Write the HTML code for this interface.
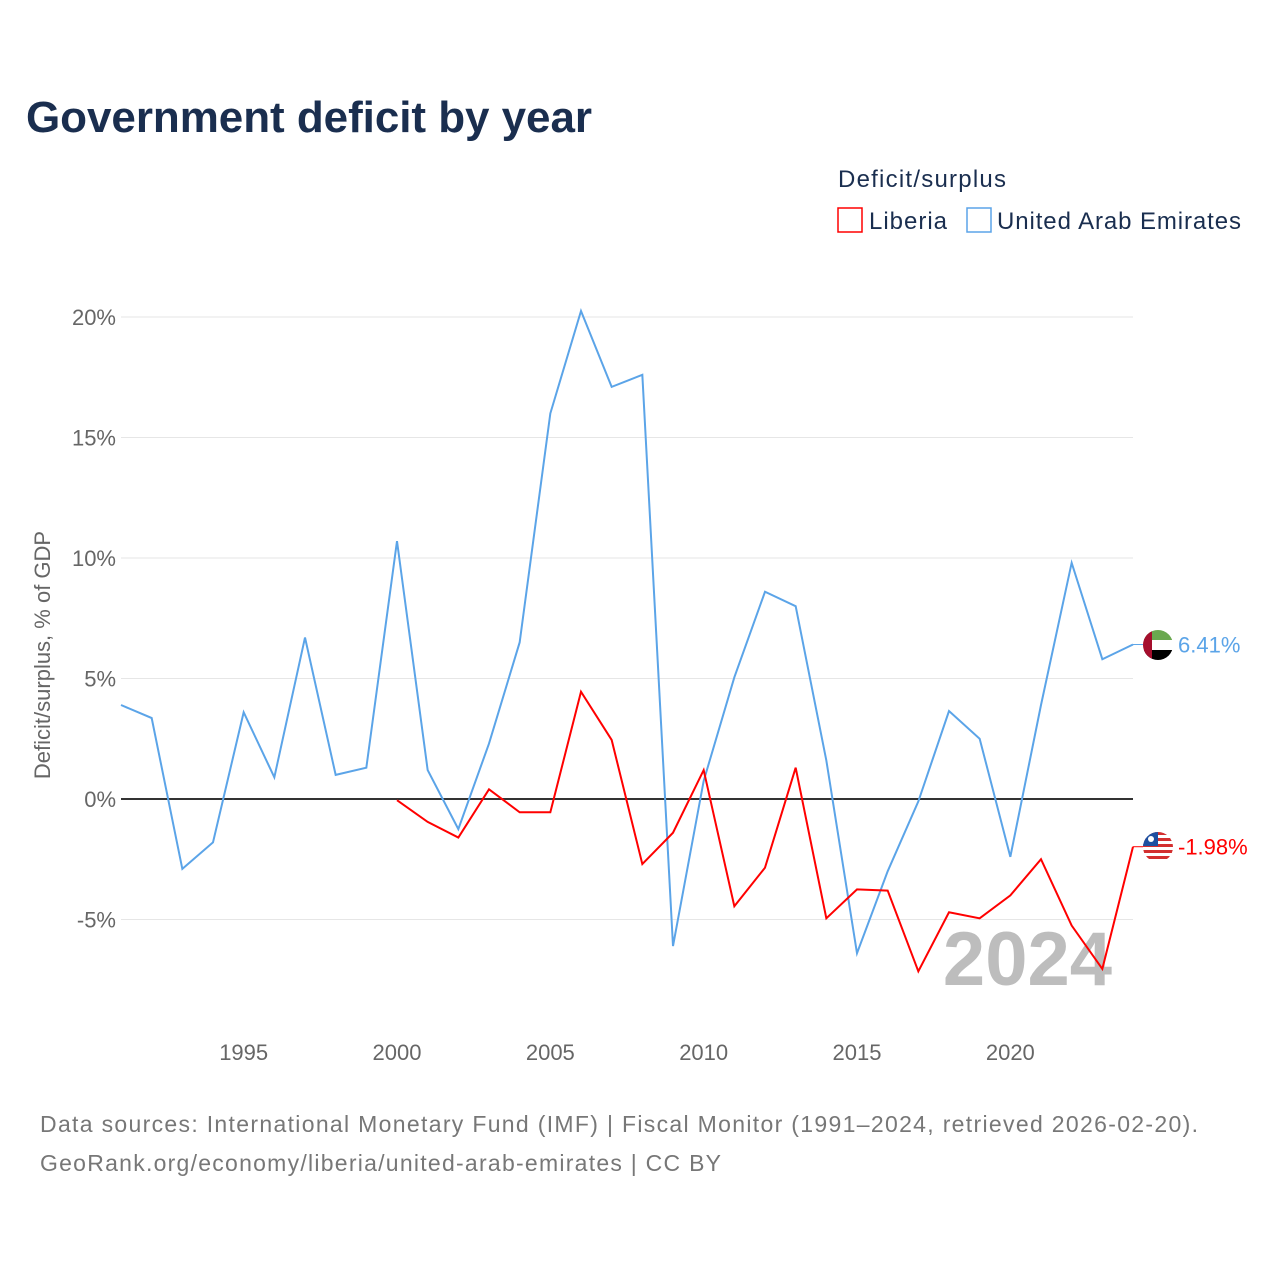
<!DOCTYPE html>
<html><head><meta charset="utf-8">
<style>
body{margin:0;background:#fff;width:1280px;height:1280px;overflow:hidden;font-family:"Liberation Sans",sans-serif}
svg text{font-family:"Liberation Sans",sans-serif}
</style></head>
<body>
<svg id="chart" width="1280" height="1280" xmlns="http://www.w3.org/2000/svg">
<defs>
<clipPath id="cu"><circle cx="1158" cy="645" r="15"/></clipPath>
<clipPath id="cl"><circle cx="1158" cy="847" r="15"/></clipPath>
</defs>
<text x="26" y="132" font-size="44" font-weight="bold" fill="#1a2e4f" textLength="566">Government deficit by year</text>
<g>
<text x="838" y="187" font-size="24" fill="#1a2e4f" textLength="168">Deficit/surplus</text>
<rect x="838" y="208" width="24" height="24" fill="none" stroke="#ff0000" stroke-width="1.5"/>
<text x="869" y="229" font-size="24" fill="#1a2e4f" textLength="78">Liberia</text>
<rect x="967" y="208" width="24" height="24" fill="none" stroke="#5ba4e8" stroke-width="1.5"/>
<text x="997" y="229" font-size="24" fill="#1a2e4f" textLength="244">United Arab Emirates</text>
</g>
<text transform="translate(50,655) rotate(-90)" text-anchor="middle" font-size="22" fill="#666">Deficit/surplus, % of GDP</text>
<g id="grid"></g><g id="xt"></g>
<text x="1112" y="985" text-anchor="end" font-size="76" font-weight="bold" fill="#bdbdbd">2024</text>
<g id="series"></g>
<g clip-path="url(#cu)">
<rect x="1143" y="630" width="30" height="10" fill="#6aa84f"/>
<rect x="1143" y="640" width="30" height="10" fill="#fff"/>
<rect x="1143" y="650" width="30" height="10" fill="#000"/>
<rect x="1143" y="630" width="9" height="30" fill="#a50e2d"/>
</g>
<g clip-path="url(#cl)">
<rect x="1143" y="832" width="30" height="30" fill="#fff"/>
<rect x="1143" y="832" width="30" height="3" fill="#d32f2f"/>
<rect x="1143" y="838" width="30" height="3" fill="#d32f2f"/>
<rect x="1143" y="844" width="30" height="3" fill="#d32f2f"/>
<rect x="1143" y="850" width="30" height="3" fill="#d32f2f"/>
<rect x="1143" y="856" width="30" height="3" fill="#d32f2f"/>
<rect x="1143" y="832" width="15" height="14" fill="#1e4fa0"/>
<circle cx="1151" cy="839" r="3" fill="#fff"/>
</g>
<text x="40" y="1132" font-size="23" fill="#777" textLength="1158">Data sources: International Monetary Fund (IMF) | Fiscal Monitor (1991–2024, retrieved 2026-02-20).</text>
<text x="40" y="1171" font-size="23" fill="#777" textLength="681">GeoRank.org/economy/liberia/united-arab-emirates | CC BY</text>
</svg>
<script>
const uaeYears=[1991,1992,1993,1994,1995,1996,1997,1998,1999,2000,2001,2002,2003,2004,2005,2006,2007,2008,2009,2010,2011,2012,2013,2014,2015,2016,2017,2018,2019,2020,2021,2022,2023,2024];
const uaeValues=[3.9,3.36,-2.9,-1.8,3.6,0.9,6.7,1.0,1.3,10.7,1.2,-1.25,2.3,6.5,16.0,20.25,17.1,17.6,-6.1,0.75,5.05,8.6,8.0,1.6,-6.4,-3.0,-0.1,3.65,2.5,-2.4,3.9,9.8,5.8,6.41];
const lbrYears=[2000,2001,2002,2003,2004,2005,2006,2007,2008,2009,2010,2011,2012,2013,2014,2015,2016,2017,2018,2019,2020,2021,2022,2023,2024];
const lbrValues=[-0.05,-0.95,-1.6,0.4,-0.55,-0.55,4.45,2.45,-2.7,-1.4,1.2,-4.45,-2.85,1.3,-4.95,-3.75,-3.8,-7.15,-4.7,-4.95,-4.0,-2.5,-5.25,-7.05,-1.98];
const yTicks=[-5,0,5,10,15,20];
const xTicks=[1995,2000,2005,2010,2015,2020];
const NS="http://www.w3.org/2000/svg";
const X=y=>121+(y-1991)*(1133-121)/33;
const Y=v=>799-v*24.1;
function mk(t,a,p){const e=document.createElementNS(NS,t);for(const k in a)e.setAttribute(k,a[k]);p.appendChild(e);return e;}
const grid=document.getElementById('grid');
yTicks.forEach(v=>{
 const l=mk('line',{x1:121,x2:1133,y1:Y(v),y2:Y(v),stroke:v===0?'#333':'#e6e6e6','stroke-width':v===0?2:1},grid);
 
 
 const t=mk('text',{x:116,y:Y(v)+8,'text-anchor':'end','font-size':22,fill:'#666'},grid);
 t.textContent=v+'%';
 
 
});
const xt=document.getElementById('xt');
xTicks.forEach(y=>{
 const t=mk('text',{x:X(y),y:1060,'text-anchor':'middle','font-size':22,fill:'#666'},xt);
 t.textContent=y;
 
 
});
const s=document.getElementById('series');
function line(ys,vs,c,name){
 const p=mk('polyline',{points:ys.map((y,i)=>X(y)+','+Y(vs[i])).join(' '),fill:'none',stroke:c,'stroke-width':2},s);
 
 
 const last=vs[vs.length-1],lx=X(ys[ys.length-1]),ly=Y(last);
 const k=mk('line',{x1:lx,x2:lx+10,y1:ly,y2:ly,stroke:c,'stroke-width':1},s);
 
 
 const t=mk('text',{x:lx+45,y:ly+8,'font-size':22,fill:c},s);
 t.textContent=last.toFixed(2)+'%';
 
 
}
line(uaeYears,uaeValues,'#5ba4e8','uae');
line(lbrYears,lbrValues,'#ff0000','liberia');
</script>
</body></html>
